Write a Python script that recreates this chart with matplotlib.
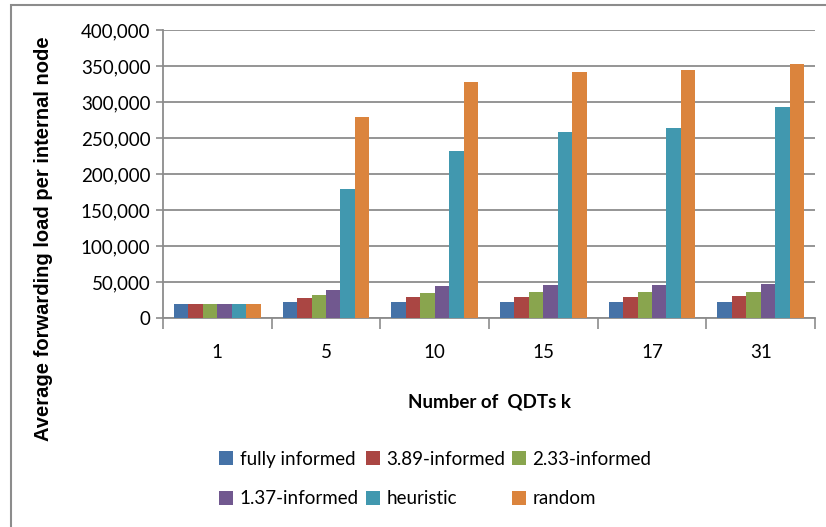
import matplotlib
matplotlib.use("Agg")
import matplotlib.pyplot as plt
from matplotlib.patches import Rectangle
import numpy as np

categories = ["1", "5", "10", "15", "17", "31"]
series_names = ["fully informed", "3.89-informed", "2.33-informed",
                "1.37-informed", "heuristic", "random"]
fully_informed = [20000, 22500, 22500, 22900, 22900, 22900]
informed_389 = [20000, 27100, 28500, 29500, 29500, 29900]
informed_233 = [20000, 31300, 34100, 35500, 35500, 36500]
informed_137 = [20000, 38800, 44000, 45800, 46300, 47700]
heuristic = [20000, 179200, 232500, 258200, 264300, 293300]
random_sel = [20000, 279300, 328400, 341500, 344800, 353200]
colors = ["#4572A7", "#AA4643", "#89A54E", "#71588F", "#4198AF", "#DB843D"]

series = [fully_informed, informed_389, informed_233,
          informed_137, heuristic, random_sel]

plt.rcParams["font.family"] = ["Lato", "DejaVu Sans"]

fig = plt.figure(figsize=(8.26, 5.27), dpi=100)
ax = fig.add_axes([163 / 826, 1 - 318 / 527, (815 - 163) / 826, (318 - 30) / 527])

x = np.arange(len(categories))
w = 1 / 7.5
handles = []
for j, (vals, col) in enumerate(zip(series, colors)):
    h = ax.bar(x + (j - 2.5) * w, vals, width=w, color=col,
               edgecolor="none", zorder=3, label=series_names[j])
    handles.append(h)

grid_col = "#8c8c8c"
ax.set_ylim(0, 400000)
ax.set_xlim(-0.5, len(categories) - 0.5)
ax.set_yticks(np.arange(0, 400001, 50000))
ax.set_yticklabels([f"{v:,}" for v in range(0, 400001, 50000)], fontsize=13.5)
ax.yaxis.grid(True, color=grid_col, linewidth=1.3, zorder=0)
ax.tick_params(axis="y", length=5, width=1.2, color=grid_col, pad=4)

# category ticks sit on the group boundaries; labels sit under each group
ax.set_xticks(np.arange(-0.5, len(categories), 1.0))
ax.set_xticklabels([])
ax.set_xticks(x, minor=True)
ax.set_xticklabels(categories, minor=True, fontsize=13.5)
ax.tick_params(axis="x", which="major", length=8, width=1.2, color=grid_col,
               direction="out")
ax.tick_params(axis="x", which="minor", length=0, pad=19)

for side in ["top", "right"]:
    ax.spines[side].set_visible(False)
for side in ["left", "bottom"]:
    ax.spines[side].set_color(grid_col)
    ax.spines[side].set_linewidth(1.3)

ax.set_xlabel("Number of  QDTs k", fontsize=13.5, fontweight="bold", labelpad=23)
ax.set_ylabel("Average forwarding load per internal node", fontsize=14.5,
              fontweight="bold", family=["Liberation Sans", "DejaVu Sans"])
ax.yaxis.set_label_coords((53 - 163) / 652, (318 - 239) / 288)

# legend filled row by row across three columns
order = [0, 3, 1, 4, 2, 5]
leg = fig.legend([handles[i] for i in order], [series_names[i] for i in order],
                 ncol=3, loc="center", bbox_to_anchor=(0.527, 1 - 479 / 527),
                 frameon=False, fontsize=13.5, handlelength=0.75,
                 handleheight=0.75, handletextpad=0.35, columnspacing=0.35,
                 labelspacing=1.2)

# chart area border
fig.patches.append(Rectangle((11 / 826, -0.1), 1.2, 1.1 - 5 / 527,
                             transform=fig.transFigure, fill=False,
                             edgecolor="#8c8c8c", linewidth=1.5))

fig.savefig("out.png", dpi=100)
